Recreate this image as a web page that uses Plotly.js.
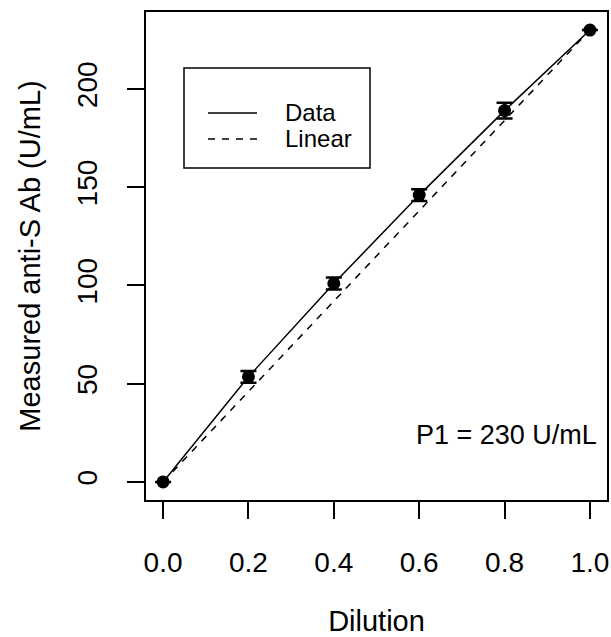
<!DOCTYPE html>
<html>
<head>
<meta charset="utf-8">
<script src="https://cdn.plot.ly/plotly-3.0.1.min.js"></script>
<style>html,body{margin:0;padding:0;background:#fff;}#chart{width:611px;height:637px;}</style>
</head>
<body>
<div id="chart"></div>
<script>
// Data
const dilution = [0.0, 0.2, 0.4, 0.6, 0.8, 1.0];
const measured = [0, 53.5, 101, 146, 189, 230];
const errors = [null, 3, 3, 3, 4, null];
const linearX = [0.0, 1.0];
const linearY = [0, 230];
const xTicks = [0.0, 0.2, 0.4, 0.6, 0.8, 1.0];
const yTicks = [0, 50, 100, 150, 200];
const legendNames = ["Data", "Linear"];
const annotationText = "P1 = 230 U/mL";

const FONT = "Liberation Sans, Arial, sans-serif";
const DASH = "7px,7px";

const traces = [
  {
    x: dilution, y: measured, type: "scatter", mode: "lines",
    name: legendNames[0],
    line: {color: "#000", width: 1.5},
    hoverinfo: "skip"
  },
  {
    x: linearX, y: linearY, type: "scatter", mode: "lines",
    name: legendNames[1],
    line: {color: "#000", width: 1.5, dash: DASH},
    hoverinfo: "skip"
  },
  {
    x: dilution, y: measured, type: "scatter", mode: "markers",
    showlegend: false,
    marker: {color: "#000", size: 13, line: {width: 0}},
    error_y: {type: "data", array: errors, visible: true, color: "#000", thickness: 2.5, width: 8}
  }
];

// plot area in pixels: x 146..607, y 12..500
const px = v => (v - 146) / 461;
const py = v => (500 - v) / 488;

const layout = {
  width: 611, height: 637,
  margin: {l: 146, r: 4, t: 12, b: 137},
  paper_bgcolor: "#fff", plot_bgcolor: "#fff",
  font: {family: FONT, color: "#000", size: 28},
  showlegend: false,
  xaxis: {
    range: [-0.04, 1.04], tickvals: xTicks, tickformat: ".1f",
    ticks: "outside", ticklen: 17, tickwidth: 2, tickcolor: "#000",
    showline: true, linecolor: "#000", linewidth: 2, mirror: true,
    showgrid: false, zeroline: false,
    ticklabelstandoff: 19,
    tickfont: {family: FONT, size: 28, color: "#000"},
    title: {text: "Dilution", font: {family: FONT, size: 29, color: "#000"}, standoff: 37}
  },
  yaxis: {
    range: [-9.2, 239.2], tickvals: yTicks,
    ticks: "outside", ticklen: 17, tickwidth: 2, tickcolor: "#000",
    showline: true, linecolor: "#000", linewidth: 2, mirror: true,
    showgrid: false, zeroline: false, tickangle: -90,
    ticklabelstandoff: 19,
    tickfont: {family: FONT, size: 28, color: "#000"},
    title: {text: "Measured anti-S Ab (U/mL)", font: {family: FONT, size: 29, color: "#000"}, standoff: 23}
  },
  shapes: [
    {type: "rect", xref: "paper", yref: "paper",
     x0: px(184), x1: px(370), y0: py(168), y1: py(68),
     line: {color: "#000", width: 1.5}, fillcolor: "rgba(0,0,0,0)"},
    {type: "line", xref: "paper", yref: "paper",
     x0: px(208), x1: px(257), y0: py(113), y1: py(113),
     line: {color: "#000", width: 1.5}},
    {type: "line", xref: "paper", yref: "paper",
     x0: px(208), x1: px(257), y0: py(139), y1: py(139),
     line: {color: "#000", width: 1.5, dash: DASH}}
  ],
  annotations: [
    {text: legendNames[0], xref: "paper", yref: "paper", x: px(283), y: py(112),
     xanchor: "left", yanchor: "middle", showarrow: false,
     font: {family: FONT, size: 24, color: "#000"}},
    {text: legendNames[1], xref: "paper", yref: "paper", x: px(283), y: py(138),
     xanchor: "left", yanchor: "middle", showarrow: false,
     font: {family: FONT, size: 24, color: "#000"}},
    {text: annotationText, xref: "paper", yref: "paper", x: px(599), y: py(435),
     xanchor: "right", yanchor: "middle", showarrow: false,
     font: {family: FONT, size: 27, color: "#000"}}
  ]
};

Plotly.newPlot("chart", traces, layout, {displayModeBar: false, staticPlot: true});
</script>
</body>
</html>
